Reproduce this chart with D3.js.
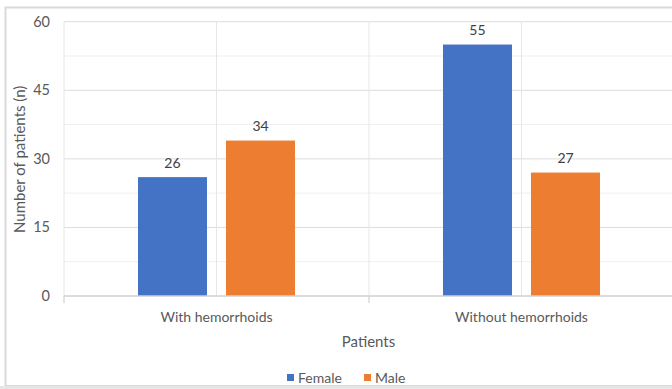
<!DOCTYPE html>
<html>
<head>
<meta charset="utf-8">
<script src="https://cdn.jsdelivr.net/npm/d3@7"></script>
<style>
  html, body { margin: 0; padding: 0; background: #ffffff; }
  svg { display: block; }
  text { font-family: Lato, "Open Sans", sans-serif; }
</style>
</head>
<body>
<svg id="chart" width="672" height="389"></svg>
<script>
// Patient counts by group and sex
const categories = ["With hemorrhoids", "Without hemorrhoids"];
const seriesNames = ["Female", "Male"];
const femaleValues = [26, 55];
const maleValues = [34, 27];
const yTicks = [0, 15, 30, 45, 60];
const seriesColors = ["#4472C4", "#ED7D31"];

const svg = d3.select("#chart");
const W = 672, H = 389;
const plot = { left: 64, right: 674, top: 21.7, bottom: 296 };

// outer chart frame
svg.append("rect")
  .attr("x", 5.5).attr("y", 7.5)
  .attr("width", 700).attr("height", 378.5)
  .attr("fill", "#ffffff")
  .attr("stroke", "#d9d9d9").attr("stroke-width", 2);
svg.append("rect")
  .attr("x", 0).attr("y", 386).attr("width", W).attr("height", 3)
  .attr("fill", "#e6e6e6");

const x = d3.scaleBand().domain(categories).range([plot.left, plot.right]).padding(0);
const cw = x.bandwidth();
// bars sit in the middle of each category with a small gap between them
const inner = d3.scaleBand().domain(seriesNames)
  .range([cw * 0.2426, cw * 0.7574]).paddingInner(0.216).paddingOuter(0);
const y = d3.scaleLinear().domain([0, 60]).range([plot.bottom, plot.top]);

const g = svg.append("g");

// minor horizontal gridlines
const minor = d3.range(7.5, 60, 15);
g.selectAll("line.minor").data(minor).join("line")
  .attr("x1", plot.left).attr("x2", plot.right)
  .attr("y1", d => y(d)).attr("y2", d => y(d))
  .attr("stroke", "#efefef").attr("stroke-width", 1);

// major horizontal gridlines
g.selectAll("line.major").data(yTicks.slice(1)).join("line")
  .attr("x1", plot.left).attr("x2", plot.right)
  .attr("y1", d => y(d)).attr("y2", d => y(d))
  .attr("stroke", "#dcdcdc").attr("stroke-width", 1);

// vertical gridlines at category edges and centres
const vLines = [];
categories.forEach(c => { vLines.push(x(c)); vLines.push(x(c) + cw / 2); });
g.selectAll("line.v").data(vLines).join("line")
  .attr("x1", d => d).attr("x2", d => d)
  .attr("y1", plot.top).attr("y2", plot.bottom)
  .attr("stroke", "#e6e6e6").attr("stroke-width", 1);

// bars
const rows = categories.map((c, i) => ({ cat: c, vals: [femaleValues[i], maleValues[i]] }));
rows.forEach(r => {
  r.vals.forEach((v, j) => {
    const bx = x(r.cat) + inner(seriesNames[j]);
    g.append("rect")
      .attr("x", bx).attr("y", y(v))
      .attr("width", inner.bandwidth()).attr("height", y(0) - y(v))
      .attr("fill", seriesColors[j]);
    g.append("text")
      .attr("x", bx + inner.bandwidth() / 2).attr("y", y(v) - 9.5)
      .attr("text-anchor", "middle")
      .attr("font-size", 14).attr("fill", "#404040")
      .text(v);
  });
});

// x axis line and tick marks at category boundaries
g.append("line")
  .attr("x1", plot.left).attr("x2", plot.right)
  .attr("y1", plot.bottom).attr("y2", plot.bottom)
  .attr("stroke", "#d0d0d0").attr("stroke-width", 1.5);
const xTickPos = categories.map(c => x(c));
g.selectAll("line.xt").data(xTickPos).join("line")
  .attr("x1", d => d).attr("x2", d => d)
  .attr("y1", plot.bottom).attr("y2", plot.bottom + 7)
  .attr("stroke", "#d0d0d0").attr("stroke-width", 1.2);

// category labels
g.selectAll("text.cat").data(categories).join("text")
  .attr("x", d => x(d) + cw / 2).attr("y", 321.5)
  .attr("text-anchor", "middle")
  .attr("font-size", 14).attr("fill", "#595959")
  .text(d => d);

// y tick labels
g.selectAll("text.yt").data(yTicks).join("text")
  .attr("x", 50).attr("y", d => y(d) + 5)
  .attr("text-anchor", "end")
  .attr("font-size", 14.5).attr("fill", "#595959")
  .text(d => d);

// axis titles
svg.append("text")
  .attr("x", (plot.left + plot.right) / 2 - 0.5).attr("y", 347)
  .attr("text-anchor", "middle")
  .attr("font-size", 15).attr("fill", "#595959")
  .text("Patients");
svg.append("text")
  .attr("transform", `translate(24.5, ${(plot.top + plot.bottom) / 2 + 0.5}) rotate(-90)`)
  .attr("text-anchor", "middle")
  .attr("font-size", 15).attr("fill", "#595959")
  .text("Number of patients (n)");

// legend
const legendItems = [
  { name: seriesNames[0], color: seriesColors[0], x: 287 },
  { name: seriesNames[1], color: seriesColors[1], x: 364 }
];
const lg = svg.append("g");
legendItems.forEach(it => {
  lg.append("rect").attr("x", it.x).attr("y", 374).attr("width", 7).attr("height", 7)
    .attr("fill", it.color);
  lg.append("text").attr("x", it.x + 11).attr("y", 382.5)
    .attr("font-size", 14).attr("fill", "#595959")
    .text(it.name);
});
</script>
</body>
</html>
